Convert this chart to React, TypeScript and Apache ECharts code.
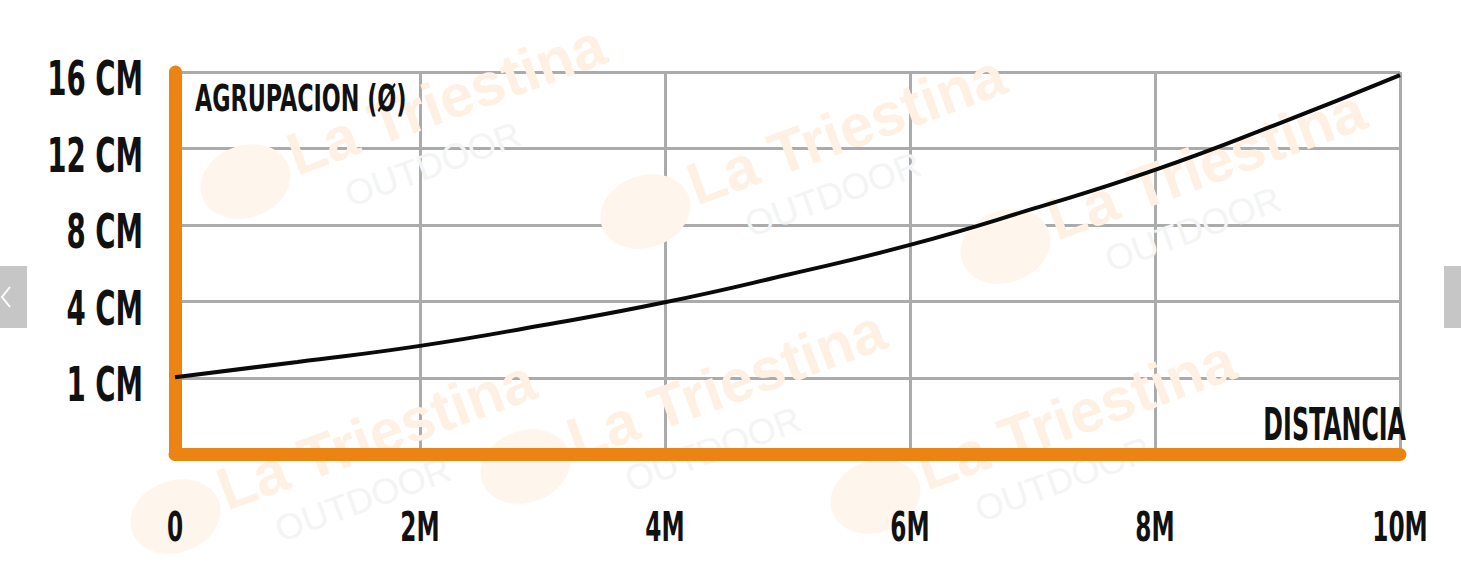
import React, { useEffect, useRef } from "react";
import * as echarts from "echarts";

// ---- data ----
// x positions (metres)
const distanceM = [0, 1, 2, 3, 4, 5, 6, 7, 8, 9, 10];
// curve height expressed as position on the (evenly spaced) grouping scale:
// 0 = axis, 1 = "1 CM", 2 = "4 CM", 3 = "8 CM", 4 = "12 CM", 5 = "16 CM"
const groupingLevel = [1.01, 1.21, 1.42, 1.69, 1.99, 2.35, 2.74, 3.21, 3.72, 4.32, 4.96];
const yTickValues = [1, 2, 3, 4, 5];
const yTickLabels = ["1 CM", "4 CM", "8 CM", "12 CM", "16 CM"];
const xTickValues = [0, 2, 4, 6, 8, 10];
const xTickLabels = ["0", "2M", "4M", "6M", "8M", "10M"];
const yAxisTitle = "AGRUPACION (Ø)";
const xAxisTitle = "DISTANCIA";

// watermark anchor points (decoration only)
const watermarkAnchors: [number, number][] = [
  [300, 185], [700, 215], [1060, 250],
  [230, 520], [580, 470], [930, 500],
];

const ORANGE = "#ec8414";
const GRID = "#ababab";
const INK = "#111111";
const COND = '"DejaVu Sans Condensed", "DejaVu Sans", sans-serif';

function watermark(x: number, y: number) {
  return {
    type: "group",
    x,
    y,
    rotation: 0.35,
    silent: true,
    children: [
      { type: "ellipse", shape: { cx: -50, cy: -22, rx: 46, ry: 36 }, style: { fill: "#fef5ec" } },
      {
        type: "text",
        style: {
          text: "La Triestina",
          x: 0,
          y: 0,
          font: 'bold 60px "Liberation Sans", Arial, sans-serif',
          fill: "#fef0e2",
          verticalAlign: "bottom",
          align: "left",
        },
      },
      {
        type: "text",
        style: {
          text: "OUTDOOR",
          x: 40,
          y: 8,
          font: '36px "Liberation Sans", Arial, sans-serif',
          fill: "#f3f4f4",
          verticalAlign: "top",
          align: "left",
        },
      },
    ],
  };
}

function label(text: string, x: number, y: number, size: number, sx: number, align: string) {
  return {
    type: "text",
    x,
    y,
    scaleX: sx,
    z: 10,
    silent: true,
    style: {
      text,
      fontFamily: COND,
      fontWeight: "bold",
      fontSize: size,
      fill: INK,
      align,
      verticalAlign: "middle",
    },
  };
}

export default function App() {
  const ref = useRef<HTMLDivElement>(null);

  useEffect(() => {
    if (!ref.current) return;
    const chart = echarts.init(ref.current, undefined, { renderer: "svg" });

    const ySplitColors = [0, ...yTickValues].map((v) => (v === 0 ? "rgba(0,0,0,0)" : GRID));
    const xSplitColors = xTickValues.map((v) => (v === 0 ? "rgba(0,0,0,0)" : GRID));

    chart.setOption({
      animation: false,
      backgroundColor: "#ffffff",
      grid: { left: 175, right: 61, top: 72, bottom: 121.5, containLabel: false },
      xAxis: {
        type: "value",
        min: 0,
        max: 10,
        interval: 2,
        axisLine: { show: true, onZero: false, lineStyle: { color: ORANGE, width: 13, cap: "round" } },
        axisTick: { show: false },
        axisLabel: { show: false },
        splitLine: { show: true, lineStyle: { color: xSplitColors, width: 3 } },
      },
      yAxis: {
        type: "value",
        min: 0,
        max: 5,
        interval: 1,
        axisLine: { show: true, onZero: false, lineStyle: { color: ORANGE, width: 13, cap: "round" } },
        axisTick: { show: false },
        axisLabel: { show: false },
        splitLine: { show: true, lineStyle: { color: ySplitColors, width: 3 } },
      },
      series: [
        {
          type: "line",
          data: distanceM.map((d, i) => [d, groupingLevel[i]]),
          smooth: 0.5,
          symbol: "none",
          lineStyle: { color: "#0a0a0a", width: 4 },
          z: 3,
        },
      ],
    });

    // tick labels placed through the chart's own scales (condensed lettering)
    const toPx = (x: number, y: number) => chart.convertToPixel({ gridIndex: 0 }, [x, y]) as number[];
    const axisX = toPx(0, 0)[0];
    const yLabels = yTickValues.map((v, i) => {
      const p = toPx(0, v);
      return label(yTickLabels[i], axisX - 32, p[1] + 7, 48, 0.64, "right");
    });
    const xLabels = xTickValues.map((v, i) => {
      const p = toPx(v, 0);
      return label(xTickLabels[i], p[0], 527, 41, 0.63, "center");
    });

    chart.setOption({
      graphic: [
        {
          type: "group",
          z: -10,
          silent: true,
          children: watermarkAnchors.map(([x, y]) => watermark(x, y)),
        },
        ...yLabels,
        ...xLabels,
        label(yAxisTitle, 195, 98, 37, 0.67, "left"),
        label(xAxisTitle, 1406, 425, 44, 0.6, "right"),
        // carousel arrows
        { type: "rect", z: 20, shape: { x: 0, y: 266, width: 27, height: 62 }, style: { fill: "#c6c6c6" } },
        {
          type: "polyline",
          z: 21,
          shape: { points: [[10, 287], [2, 297], [10, 307]] },
          style: { stroke: "#ffffff", lineWidth: 2, fill: "none" },
        },
        { type: "rect", z: 20, shape: { x: 1444, y: 266, width: 17, height: 62 }, style: { fill: "#c6c6c6" } },
      ],
    });

    return () => chart.dispose();
  }, []);

  return (
    <div
      ref={ref}
      style={{ position: "absolute", left: 0, top: 0, width: 1461, height: 576 }}
    />
  );
}
